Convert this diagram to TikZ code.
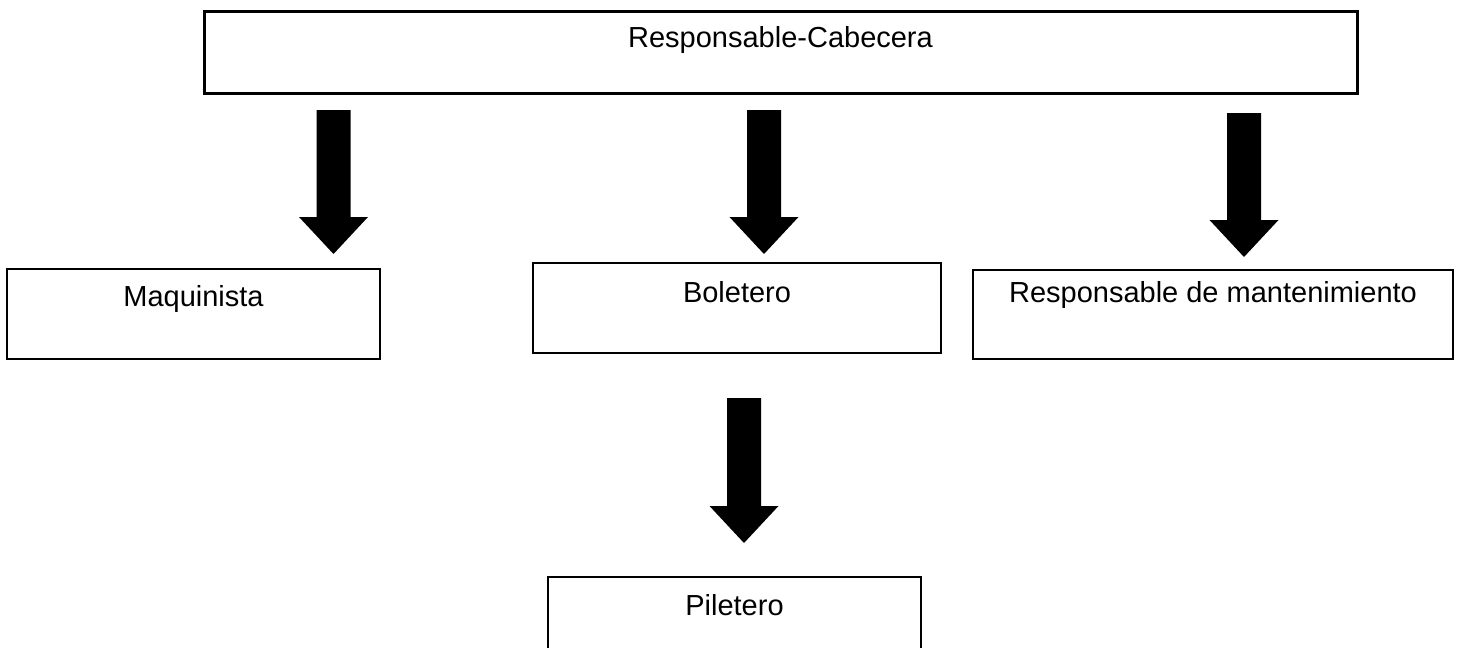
\documentclass[tikz,border=0pt]{standalone}
\usepackage{fontspec}
\setmainfont{Liberation Sans}
\usetikzlibrary{calc}

\tikzset{
  box/.style={draw, line width=2.2pt, inner sep=0pt},
  lbl/.style={font=\fontsize{29}{34}\selectfont, inner sep=0pt, anchor=north},
}

% fat down arrow from shaft top (#1) to tip (#2)
\newcommand{\blockarrow}[2]{%
  \fill let \p1=(#1), \p2=(#2) in
    (\x1-17pt,\y1) -- (\x1+17pt,\y1) -- (\x1+17pt,\y2+37pt) -- (\x1+34.5pt,\y2+37pt)
    -- (\p2) -- (\x1-34.5pt,\y2+37pt) -- (\x1-17pt,\y2+37pt) -- cycle;}

\begin{document}
\begin{tikzpicture}[x=1pt,y=-1pt]
  \useasboundingbox (0,0) rectangle (1457,648);
  \clip (0,0) rectangle (1457,648);

  % Top box
  \node[box, line width=3pt, minimum width=1153pt, minimum height=82pt,
        label={[lbl, yshift=-17pt]north:Responsable-Cabecera}] (cab) at (780.5,52) {};

  % Second row
  \node[box, minimum width=373pt, minimum height=90pt,
        label={[lbl, yshift=-17pt]north:Maquinista}] (maq) at (193.5,314) {};
  \node[box, minimum width=408pt, minimum height=90pt,
        label={[lbl, yshift=-19pt]north:Boletero}] (bol) at (737,308) {};
  \node[box, minimum width=480pt, minimum height=89pt,
        label={[lbl, yshift=-12pt]north:Responsable de mantenimiento}] (resp) at (1213,314.5) {};

  % Bottom box (cut by the page edge)
  \node[box, minimum width=373pt, minimum height=90pt,
        label={[lbl, yshift=-18pt]north:Piletero}] (pil) at (734.5,622) {};

  % Arrows
  \coordinate (maqtop) at (333.5,110);  \coordinate (maqtip) at (333.5,254);
  \coordinate (boltop) at (764,110);    \coordinate (boltip) at (764,254);
  \coordinate (resptop) at (1244,113);  \coordinate (resptip) at (1244,257);
  \coordinate (piltop) at (744,398);    \coordinate (piltip) at (744,543);

  \blockarrow{maqtop}{maqtip}
  \blockarrow{boltop}{boltip}
  \blockarrow{resptop}{resptip}
  \blockarrow{piltop}{piltip}

\end{tikzpicture}
\end{document}
